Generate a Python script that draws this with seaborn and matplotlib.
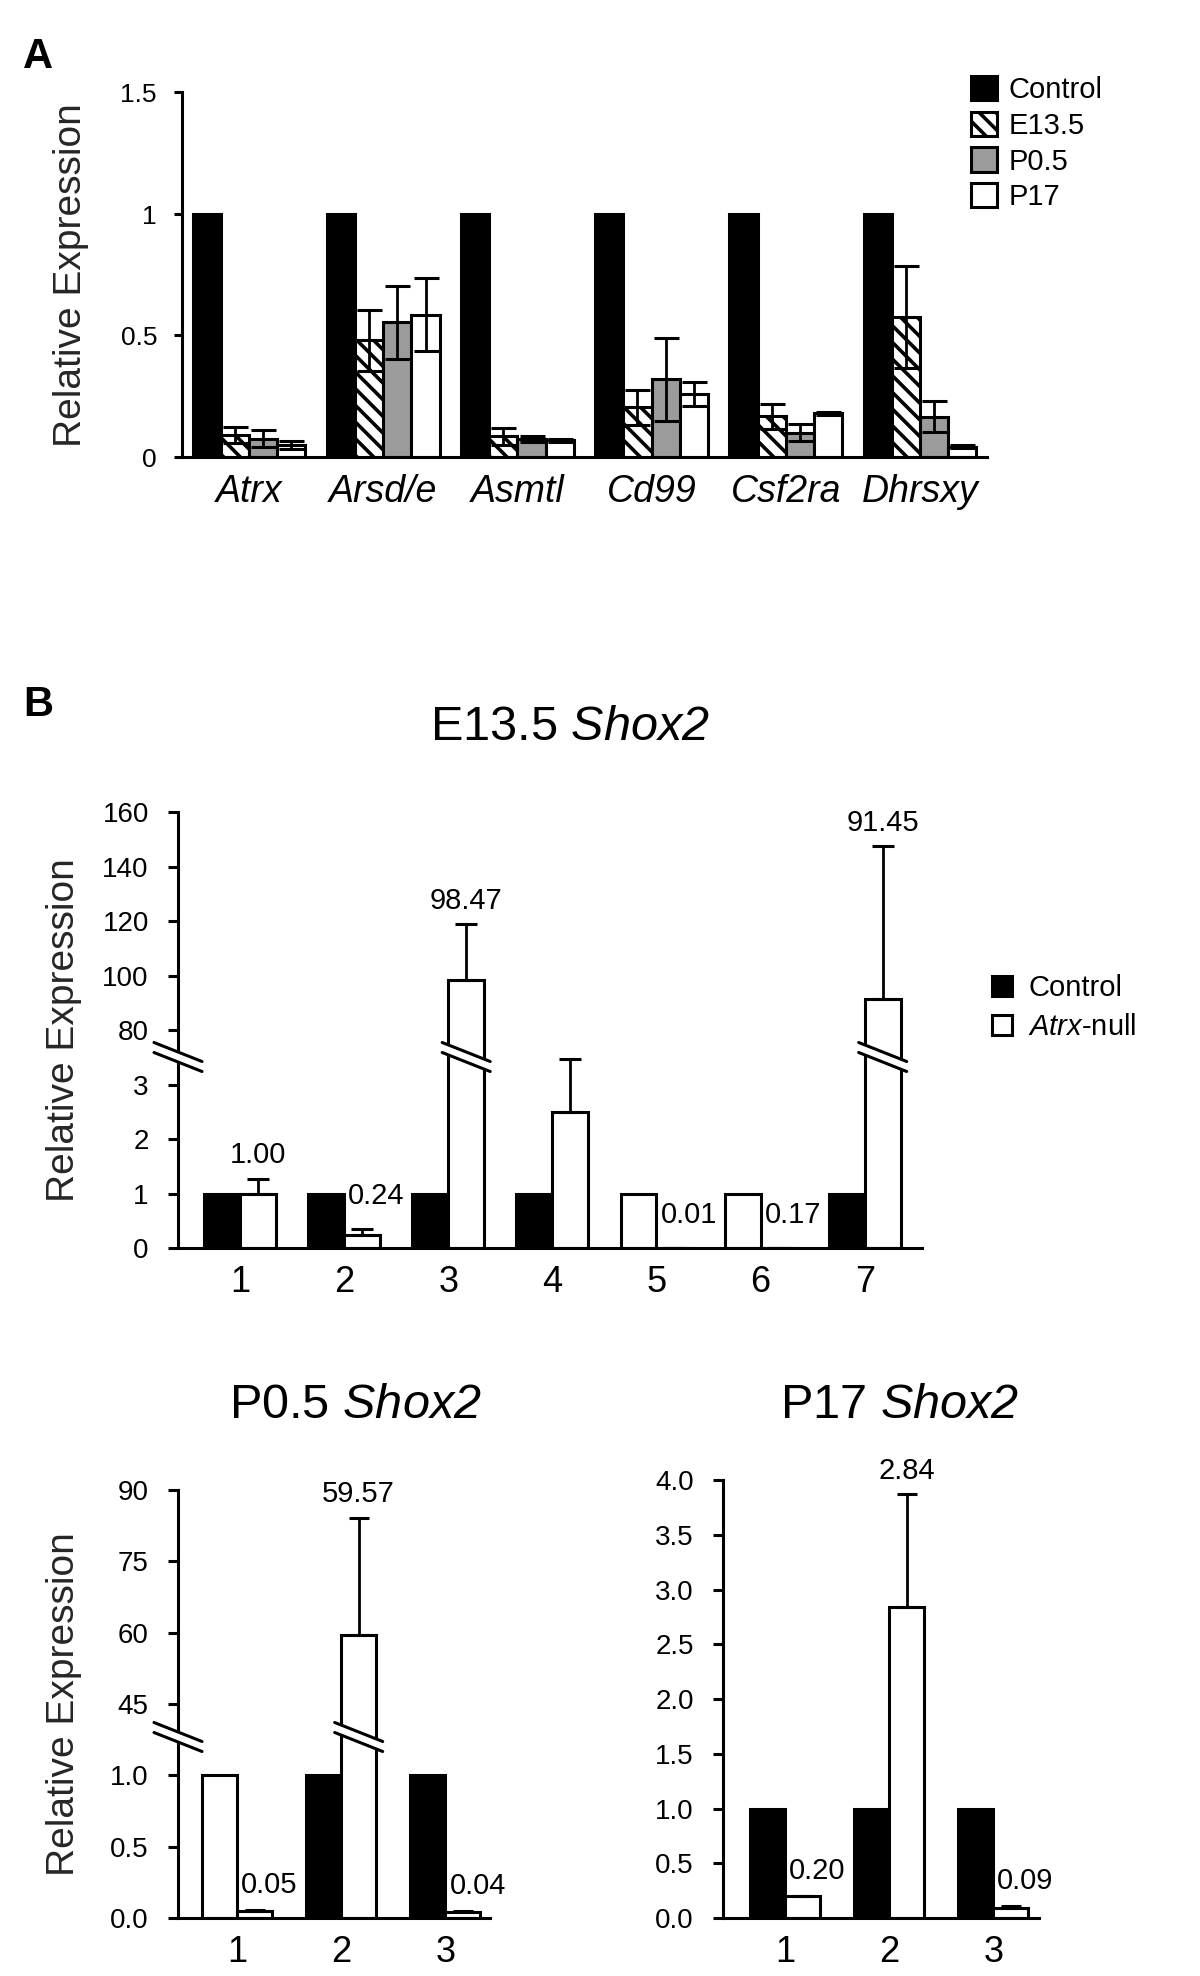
import numpy as np
import pandas as pd
import matplotlib
matplotlib.use("Agg")
import matplotlib.pyplot as plt
import seaborn as sns
from matplotlib.patches import Patch, Polygon
from matplotlib.lines import Line2D

# ---------------- DATA ----------------
# Panel A: relative expression of PAR genes
genes = ["Atrx", "Arsd/e", "Asmtl", "Cd99", "Csf2ra", "Dhrsxy"]
stages = ["Control", "E13.5", "P0.5", "P17"]
a_control = [1, 1, 1, 1, 1, 1]
a_e135 = [0.09, 0.48, 0.085, 0.205, 0.167, 0.575]
a_p05 = [0.075, 0.555, 0.075, 0.32, 0.10, 0.165]
a_p17 = [0.05, 0.585, 0.068, 0.26, 0.18, 0.042]
a_e135_err = [0.033, 0.125, 0.035, 0.072, 0.05, 0.21]
a_p05_err = [0.035, 0.15, 0.012, 0.17, 0.035, 0.064]
a_p17_err = [0.016, 0.15, 0.008, 0.05, 0.006, 0.007]

# Panel B: Shox2, control vs Atrx-null per sample pair
e13_samples = ["1", "2", "3", "4", "5", "6", "7"]
e13_control = [1, 1, 1, 1, 1, 1, 1]
e13_null = [1.0, 0.24, 98.47, 2.50, 0.0, 0.0, 91.45]
e13_err = [0.28, 0.11, 20.3, 0.98, 0.0, 0.0, 55.9]
e13_labels = ["1.00", "0.24", "98.47", "2.50", "0.01", "0.17", "91.45"]

p05_samples = ["1", "2", "3"]
p05_control = [1, 1, 1]
p05_null = [0.05, 59.57, 0.04]
p05_err = [0.005, 24.5, 0.01]
p05_labels = ["0.05", "59.57", "0.04"]

p17_samples = ["1", "2", "3"]
p17_control = [1, 1, 1]
p17_null = [0.20, 2.84, 0.09]
p17_err = [0.0, 1.03, 0.02]
p17_labels = ["0.20", "2.84", "0.09"]

# control bars that are drawn white in the original figure
e13_white = [4, 5]
p05_white = [0]

# ---------------- STYLE ----------------
sns.set_theme(style="ticks")
plt.rcParams["font.family"] = ["Liberation Sans", "DejaVu Sans"]
# math text is only used for the italic gene names
plt.rcParams["mathtext.fontset"] = "custom"
plt.rcParams["mathtext.rm"] = "Liberation Sans:italic"
plt.rcParams["mathtext.it"] = "Liberation Sans:italic"
plt.rcParams["hatch.linewidth"] = 2.6
plt.rcParams["axes.linewidth"] = 2.2
plt.rcParams["axes.edgecolor"] = "black"
plt.rcParams["text.color"] = "black"
plt.rcParams["xtick.color"] = "black"
plt.rcParams["ytick.color"] = "black"

W, H = 1200, 1976
fig = plt.figure(figsize=(W / 100, H / 100), dpi=100)
LW = 2.2


def add_ax(left, right, top, bottom):
    return fig.add_axes([left / W, 1 - bottom / H, (right - left) / W, (bottom - top) / H])


def break_mark(ax, x, y):
    # two parallel slashes with a white gap, drawn in pixel space
    cx, cy = ax.transData.transform((x, y))
    hw, dy, g = 24, 9.5, 5
    poly = [(cx - hw, cy + dy + g), (cx + hw, cy - dy + g), (cx + hw, cy - dy - g), (cx - hw, cy + dy - g)]
    fig.add_artist(Polygon([(px / W, py / H) for px, py in poly], closed=True, facecolor="white",
                           edgecolor="none", transform=fig.transFigure, zorder=10))
    for s in (g, -g):
        fig.add_artist(Line2D([(cx - hw) / W, (cx + hw) / W], [(cy + dy + s) / H, (cy - dy + s) / H],
                              color="black", lw=LW, transform=fig.transFigure, zorder=11))


# ---------------- PANEL A ----------------
axA = add_ax(182, 987, 92.5, 457)
dfA = pd.DataFrame({"gene": genes * 4,
                    "stage": np.repeat(stages, len(genes)),
                    "value": a_control + a_e135 + a_p05 + a_p17})
sns.barplot(data=dfA, x="gene", y="value", hue="stage", order=genes, hue_order=stages,
            palette=["black", "white", "#9b9b9b", "white"], saturation=1, width=0.84,
            edgecolor="black", linewidth=LW, errorbar=None, legend=False, ax=axA)
errA = [None, a_e135_err, a_p05_err, a_p17_err]
bar_conts = list(axA.containers)
for k, cont in enumerate(bar_conts):
    if stages[k] == "E13.5":
        for bar in cont:
            bar.set_hatch("\\\\")
    if errA[k] is None:
        continue
    xs = [b.get_x() + b.get_width() / 2 for b in cont]
    ys = [b.get_height() for b in cont]
    axA.errorbar(xs, ys, yerr=errA[k], fmt="none", ecolor="black", elinewidth=2,
                 capsize=9, capthick=LW, zorder=5)

sns.despine(ax=axA)
axA.set_xlim(-0.5, 5.5)
axA.set_ylim(0, 1.5)
axA.set_yticks([0, 0.5, 1, 1.5])
axA.set_yticklabels(["0", "0.5", "1", "1.5"])
axA.set_xticks(range(len(genes)))
axA.set_xticklabels(genes, fontstyle="italic")
axA.tick_params(axis="y", length=6, width=LW, pad=12, labelsize=19)
axA.tick_params(axis="x", length=0, pad=12, labelsize=27)
axA.set_xlabel("")
axA.set_ylabel("Relative Expression", fontsize=28)
axA.yaxis.set_label_coords(89 / W, 1 - 275 / H, transform=fig.transFigure)

handlesA = [Patch(facecolor="black", edgecolor="black", lw=LW),
            Patch(facecolor="white", edgecolor="black", lw=LW, hatch="\\\\"),
            Patch(facecolor="#9b9b9b", edgecolor="black", lw=LW),
            Patch(facecolor="white", edgecolor="black", lw=LW)]
fig.legend(handlesA, stages, loc="upper left", bbox_to_anchor=(971 / W, 1 - 76 / H),
           frameon=False, fontsize=21, borderpad=0, borderaxespad=0,
           handlelength=0.9, handleheight=0.9, handletextpad=0.4, labelspacing=0.26)


# ---------------- PANEL B ----------------
def shox_panel(boxes, samples, control, null, err, labels, white_ctrl, ylims, yticks, fmts,
               xlim, width, capsize, small_pad):
    df = pd.DataFrame({"sample": samples * 2,
                       "group": ["Control"] * len(samples) + ["Atrx-null"] * len(samples),
                       "value": control + null})
    axes = []
    for box, lim, ticks, fmt in zip(boxes, ylims, yticks, fmts):
        ax = add_ax(*box)
        sns.barplot(data=df, x="sample", y="value", hue="group", order=samples,
                    hue_order=["Control", "Atrx-null"], palette=["black", "white"], saturation=1,
                    width=width, edgecolor="black", linewidth=LW, errorbar=None, legend=False, ax=ax)
        ctrl_bars, null_bars = list(ax.containers)[:2]
        for i in white_ctrl:
            ctrl_bars[i].set_facecolor("white")
        xs = [b.get_x() + b.get_width() / 2 for b in null_bars]
        ax.errorbar(xs, null, yerr=[np.zeros(len(err)), err], fmt="none", ecolor="black",
                    elinewidth=2, capsize=capsize, capthick=LW, zorder=5)
        sns.despine(ax=ax)
        ax.set_xlim(*xlim)
        ax.set_ylim(*lim)
        ax.set_yticks(ticks)
        ax.set_yticklabels([fmt.format(t) for t in ticks])
        ax.tick_params(axis="y", length=7, width=LW, pad=14, labelsize=20)
        ax.tick_params(axis="x", length=0, pad=12, labelsize=26)
        ax.set_xlabel("")
        ax.set_ylabel("")
        axes.append((ax, null_bars))
    lower, null_bars = axes[0]
    upper = axes[1][0] if len(axes) > 1 else None
    if upper is not None:
        upper.spines["bottom"].set_visible(False)
        upper.tick_params(axis="x", bottom=False, labelbottom=False)
    for i, bar in enumerate(null_bars):
        top = null[i] + err[i]
        ax = upper if (upper is not None and top > ylims[0][1]) else lower
        if null[i] < 0.5:
            ax.annotate(labels[i], (bar.get_x(), top), xytext=(3, small_pad), textcoords="offset points",
                        ha="left", va="bottom", fontsize=21, annotation_clip=False)
        else:
            ax.annotate(labels[i], (bar.get_x() + bar.get_width() / 2, top), xytext=(0, 7),
                        textcoords="offset points", ha="center", va="bottom", fontsize=21,
                        annotation_clip=False)
    if upper is not None:
        ybrk = ylims[0][1]
        break_mark(lower, xlim[0], ybrk)
        for i, bar in enumerate(null_bars):
            if null[i] > ybrk:
                break_mark(lower, bar.get_x() + bar.get_width() / 2, ybrk)
    return lower


ax_e13 = shox_panel([(178, 922, 1057, 1248), (178, 922, 812, 1057)], e13_samples, e13_control,
                    e13_null, e13_err, e13_labels, e13_white,
                    [(0, 3.52), (70.1, 160)], [[0, 1, 2, 3], [80, 100, 120, 140, 160]],
                    ["{:g}", "{:g}"], (-0.595, 6.55), 0.69, 8, 14)
ax_e13.set_ylabel("Relative Expression", fontsize=28)
ax_e13.yaxis.set_label_coords(82 / W, 1 - 1030 / H, transform=fig.transFigure)

ax_p05 = shox_panel([(178, 490, 1737, 1918), (178, 490, 1490, 1737)], p05_samples, p05_control,
                    p05_null, p05_err, p05_labels, p05_white,
                    [(0, 1.266), (38.1, 90)], [[0, 0.5, 1.0], [45, 60, 75, 90]],
                    ["{:.1f}", "{:g}"], (-0.567, 2.43), 0.675, 7, 8)
ax_p05.set_ylabel("Relative Expression", fontsize=28)
ax_p05.yaxis.set_label_coords(82 / W, 1 - 1704 / H, transform=fig.transFigure)

shox_panel([(723, 1039, 1480, 1918)], p17_samples, p17_control, p17_null, p17_err, p17_labels, [],
           [(0, 4.0)], [[0, 0.5, 1.0, 1.5, 2.0, 2.5, 3.0, 3.5, 4.0]], ["{:.1f}"],
           (-0.596, 2.44), 0.675, 7, 8)

handlesB = [Patch(facecolor="black", edgecolor="black", lw=LW),
            Patch(facecolor="white", edgecolor="black", lw=LW)]
fig.legend(handlesB, ["Control", "$Atrx$-null"], loc="upper left",
           bbox_to_anchor=(992 / W, 1 - 974 / H), frameon=False, fontsize=21, borderpad=0,
           borderaxespad=0, handlelength=0.69, handleheight=0.69, handletextpad=0.55,
           labelspacing=0.38)

# titles and panel letters
fig.text(570 / W, 1 - 727 / H, "E13.5 $Shox2$", ha="center", va="center", fontsize=35)
fig.text(355 / W, 1 - 1405 / H, "P0.5 $Shox2$", ha="center", va="center", fontsize=35)
fig.text(900 / W, 1 - 1405 / H, "P17 $Shox2$", ha="center", va="center", fontsize=35)
fig.text(38 / W, 1 - 57 / H, "A", ha="center", va="center", fontsize=30, fontweight="bold")
fig.text(38 / W, 1 - 705 / H, "B", ha="center", va="center", fontsize=30, fontweight="bold")

fig.savefig("out.png", dpi=100, facecolor="white")
